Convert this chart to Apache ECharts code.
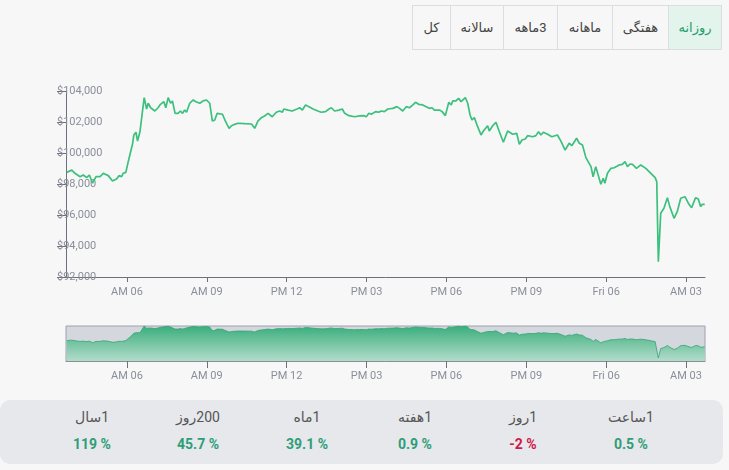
<!DOCTYPE html>
<html>
<head>
<meta charset="utf-8">
<script src="https://cdn.jsdelivr.net/npm/echarts@6/dist/echarts.min.js"></script>
<style>
  html, body { margin: 0; padding: 0; background: #f7f7f7; width: 729px; height: 470px; overflow: hidden; }
  body { font-family: Roboto, "DejaVu Sans", sans-serif; }
  #chart { position: absolute; left: 0; top: 0; width: 729px; height: 470px; }
  #btns { position: absolute; top: 5px; left: 0; height: 45px; width: 729px; }
  .btn { position: absolute; top: 0; box-sizing: border-box; height: 45px; border: 1px solid #dcdde0; display: flex; align-items: center; justify-content: center; font-size: 13px; color: #444; direction: rtl; background: #f7f7f7; }
  .btn.active { background: #e2f4ec; color: #1f9d6e; }
  #stats { position: absolute; left: 0; top: 400px; width: 723px; height: 64px; background: #e6e8ec; border-radius: 10px; }
  .cell { position: absolute; width: 100px; text-align: center; }
  .lab { top: 9px; font-size: 14px; color: #555; direction: rtl; }
  .val { top: 36px; font-size: 14px; font-weight: bold; direction: ltr; }
</style>
</head>
<body>
<div id="chart"></div>
<div id="btns"></div>
<div id="stats"></div>
<script>
// hours of day (start ~03:42, end ~03:42 next day)
const times = [
  3.74,3.93,4.05,4.24,4.36,4.49,4.59,4.71,4.84,4.99,
  5.11,5.30,5.46,5.61,5.71,5.80,5.86,5.96,6.05,6.14,
  6.21,6.26,6.34,6.40,6.49,6.56,6.65,6.74,6.80,6.89,
  7.05,7.17,7.26,7.39,7.46,7.55,7.64,7.71,7.81,7.92,
  8.01,8.09,8.17,8.24,8.36,8.49,8.59,8.74,8.86,8.99,
  9.11,9.21,9.30,9.39,9.59,9.68,9.76,9.84,9.93,10.05,
  10.17,10.43,10.68,10.80,10.92,11.05,11.17,11.30,11.46,11.61,
  11.74,11.84,11.89,12.05,12.21,12.39,12.49,12.59,12.71,12.84,
  12.99,13.17,13.30,13.46,13.59,13.68,13.80,13.96,14.09,14.18,
  14.34,14.55,14.74,14.89,14.99,15.09,15.18,15.34,15.46,15.55,
  15.67,15.80,15.99,16.14,16.24,16.36,16.49,16.61,16.74,16.84,
  16.96,17.11,17.24,17.36,17.46,17.55,17.74,17.84,17.96,18.09,
  18.18,18.24,18.36,18.46,18.55,18.71,18.80,18.89,18.96,19.05,
  19.14,19.30,19.39,19.46,19.55,19.61,19.74,19.86,19.99,20.14,
  20.30,20.49,20.64,20.74,20.84,20.96,21.05,21.24,21.36,21.46,
  21.55,21.64,21.80,21.96,22.17,22.30,22.46,22.61,22.71,22.89,
  22.99,23.11,23.24,23.43,23.51,23.61,23.80,23.89,23.95,24.05,
  24.18,24.30,24.36,24.49,24.61,24.71,24.80,24.90,24.99,25.14,
  25.30,25.49,25.68,25.84,25.90,25.96,26.05,26.17,26.30,26.39,
  26.46,26.55,26.67,26.80,26.96,27.11,27.21,27.36,27.46,27.55,
  27.61,27.70
];
const prices = [
  98750,98900,98690,98470,98580,98410,98580,98050,98470,98470,
  98690,98540,98190,98320,98540,98470,98690,98750,99440,100080,
  100560,101160,101340,100770,101370,102340,103570,102840,103210,102920,
  102710,102920,103140,103310,102920,103570,103210,103360,102560,102560,
  102710,102560,102770,102630,103210,103420,103310,103210,103360,103420,
  103210,102060,102130,102560,102500,102130,101850,101590,101760,101850,
  101920,101890,101870,101590,102060,102280,102390,102560,102340,102630,
  102710,102630,102840,102770,102710,102840,102920,102770,103100,102990,
  102840,102710,102630,102670,102840,102920,102710,102770,102840,102560,
  102410,102340,102390,102410,102340,102560,102500,102670,102630,102710,
  102670,102840,102880,102990,102880,102710,102990,102920,103100,103270,
  103140,103100,102990,102880,102920,102770,102770,102670,102410,103270,
  103100,103360,103360,103530,103310,103570,103210,102450,102130,102280,
  101850,101160,101420,101340,101760,101420,101760,101980,101370,100690,
  101420,101210,101270,100560,100840,100900,101120,101050,101120,101370,
  101160,101340,101210,101050,101160,100770,100190,100630,100470,100950,
  100630,100520,99700,99120,98470,99120,97980,98370,98050,98690,
  99010,99050,98970,99230,99270,99440,99120,99290,99270,99010,
  99230,99010,98690,98410,98150,92990,96110,96430,97120,96540,
  96540,95790,96210,97080,97180,96690,96470,97120,97030,96540,
  96690,96690
];
const xTickValues = [6, 9, 12, 15, 18, 21, 24, 27];
const xTickLabels = ['AM 06', 'AM 09', 'PM 12', 'PM 03', 'PM 06', 'PM 09', 'Fri 06', 'AM 03'];
const xMin = 3.7125, xMax = 27.7125;
const yMin = 92000, yMax = 104000, yStep = 2000;

const buttons = ['روزانه', 'هفتگی', 'ماهانه', '3ماهه', 'سالانه', 'کل'];
const activeButton = 'روزانه';
const statLabels = ['1ساعت', '1روز', '1هفته', '1ماه', '200روز', '1سال'];
const statValues = ['0.5 %', '-2 %', '0.9 %', '39.1 %', '45.7 %', '119 %'];

// --- HTML parts ---
const btnEdges = [721, 668, 612, 557, 503, 450, 412]; // right-to-left boundaries
const btns = document.getElementById('btns');
buttons.forEach((b, i) => {
  const d = document.createElement('div');
  d.className = 'btn' + (b === activeButton ? ' active' : '');
  const left = btnEdges[i + 1], right = btnEdges[i];
  d.style.left = left + 'px';
  d.style.width = (right - left + 1) + 'px';
  d.textContent = b;
  btns.appendChild(d);
});
const stats = document.getElementById('stats');
const centers = [631, 523, 415, 307, 198, 92];
statLabels.forEach((l, i) => {
  const a = document.createElement('div');
  a.className = 'cell lab';
  a.style.left = (centers[i] - 50) + 'px';
  a.textContent = l;
  stats.appendChild(a);
  const v = document.createElement('div');
  v.className = 'cell val';
  v.style.left = (centers[i] - 50) + 'px';
  v.style.color = statValues[i].startsWith('-') ? '#d0184a' : '#2e9e78';
  v.textContent = statValues[i];
  stats.appendChild(v);
});

// --- chart ---
const series = times.map((t, i) => [t, prices[i]]);
const labelFmt = v => { const k = xTickValues.indexOf(Math.round(v)); return k >= 0 ? xTickLabels[k] : ''; };
const axisColor = '#6e7079';
const labelColor = '#8a8e9a';

const chart = echarts.init(document.getElementById('chart'), null, { renderer: 'canvas' });
chart.setOption({
  backgroundColor: 'transparent',
  animation: false,
  textStyle: { fontFamily: 'Roboto, sans-serif' },
  grid: [
    { left: 66, right: 24, top: 91, bottom: 193 },
    { left: 66, right: 24, top: 326, height: 35, show: true, backgroundColor: '#d5d7de', borderColor: '#9ea2ac', borderWidth: 1 }
  ],
  xAxis: [
    {
      type: 'value', gridIndex: 0, min: xMin, max: xMax,
      axisLine: { show: true, lineStyle: { color: axisColor } },
      axisTick: { show: true, length: 5, customValues: xTickValues, lineStyle: { color: axisColor } },
      axisLabel: { customValues: xTickValues, formatter: labelFmt, color: labelColor, fontSize: 11, margin: 10 },
      splitLine: { show: false }
    },
    {
      type: 'value', gridIndex: 1, min: xMin, max: xMax,
      axisLine: { show: true, lineStyle: { color: '#8a8e99' } },
      axisTick: { show: true, length: 7, customValues: xTickValues, lineStyle: { color: axisColor } },
      axisLabel: { customValues: xTickValues, formatter: labelFmt, color: labelColor, fontSize: 11, margin: 10 },
      splitLine: { show: false }
    }
  ],
  yAxis: [
    {
      type: 'value', gridIndex: 0, min: yMin, max: yMax, interval: yStep,
      axisLine: { show: true, lineStyle: { color: axisColor } },
      axisTick: { show: true, length: 9, lineStyle: { color: axisColor } },
      axisLabel: {
        formatter: v => '$' + v.toLocaleString('en-US'),
        color: labelColor, fontSize: 11, align: 'left', margin: 9
      },
      splitLine: { show: false }
    },
    { type: 'value', gridIndex: 1, min: yMin, max: 'dataMax', show: false, splitLine: { show: false } }
  ],
  series: [
    {
      type: 'line', xAxisIndex: 0, yAxisIndex: 0, data: series, showSymbol: false,
      lineStyle: { color: '#3cc07e', width: 1.7 }
    },
    {
      type: 'line', xAxisIndex: 1, yAxisIndex: 1, data: series, showSymbol: false,
      lineStyle: { color: '#34a574', width: 0.8 },
      areaStyle: {
        opacity: 1,
        color: new echarts.graphic.LinearGradient(0, 0, 0, 1, [
          { offset: 0, color: '#3aae7c' },
          { offset: 1, color: '#b3dccb' }
        ])
      }
    }
  ]
});
</script>
</body>
</html>
